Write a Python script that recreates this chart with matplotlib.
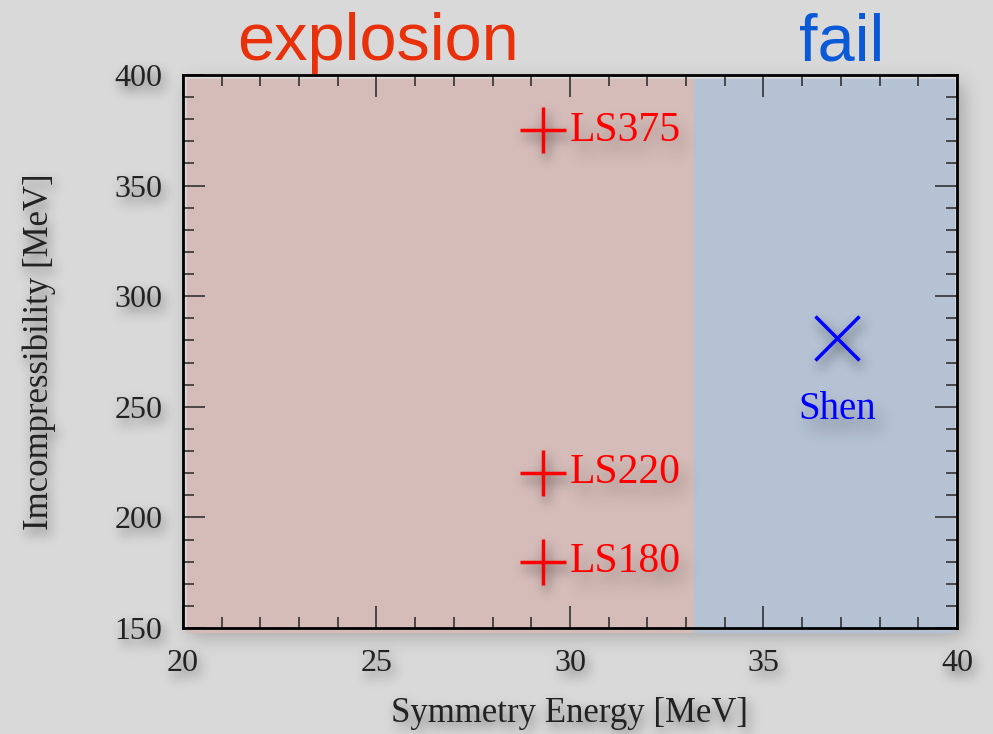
import numpy as np
import matplotlib.pyplot as plt
from matplotlib.text import Text
from matplotlib.patches import Rectangle
from matplotlib.ticker import MultipleLocator

# equations of state: symmetry energy [MeV], incompressibility [MeV]
ls_names = ["LS180", "LS220", "LS375"]
ls_esym = [29.3, 29.3, 29.3]
ls_k = [180, 220, 375]
shen_esym = [36.9]
shen_k = [281]

# explosion / fail boundary in symmetry energy
boundary = 33.2
xlim = (20, 40)
ylim = (150, 400)


def blur(a, sigma):
    r = int(3 * sigma)
    k = np.exp(-0.5 * (np.arange(-r, r + 1) / sigma) ** 2)
    k /= k.sum()
    h, w = a.shape
    p = np.pad(a, ((0, 0), (r, r)))
    a = sum(k[i] * p[:, i:i + w] for i in range(2 * r + 1))
    p = np.pad(a, ((r, r), (0, 0)))
    return sum(k[i] * p[i:i + h, :] for i in range(2 * r + 1))


class Shadow:
    """agg filter: blurred black copy of the artist, shifted down-right"""

    def __init__(self, sigma=4, dx=3, dy=5, alpha=0.5):
        self.sigma, self.dx, self.dy, self.alpha = sigma, dx, dy, alpha

    def __call__(self, im, dpi):
        pad = int(3 * self.sigma) + max(abs(self.dx), abs(self.dy)) + 2
        a = np.pad(im[..., 3], pad)
        a = blur(a, self.sigma)
        a = np.roll(np.roll(a, self.dx, axis=1), self.dy, axis=0)
        out = np.zeros(a.shape + (4,))
        out[..., 3] = np.clip(a * self.alpha, 0, 1)
        return out, -pad, -pad


def text_shadow(t, **kw):
    s = Text()
    s.update_from(t)
    s.set_text(t.get_text())
    s.set_rotation_mode(t.get_rotation_mode())
    s.set_position(t.get_position())
    s.set_transform(t.get_transform())
    s.set_agg_filter(Shadow(**kw))
    s.set_zorder(-1)
    fig.add_artist(s)


plt.rcParams['font.family'] = ['Liberation Serif', 'DejaVu Serif']

fig = plt.figure(figsize=(9.93, 7.34), dpi=100)
fig.patch.set_facecolor('#d9d9d9')
ax = fig.add_axes([0.1843, 0.1444, 0.7794, 0.7534])
ax.set_facecolor('#d9d9d9')

# soft shadow behind the whole frame
fig.add_artist(Rectangle((0, 0), 1, 1, transform=ax.transAxes, facecolor='k',
                         zorder=-2, agg_filter=Shadow(10, 6, 8, 0.25)))

ax.axvspan(xlim[0] + 0.1, boundary, ymin=-0.007, ymax=0.993, color='#d5bcb8',
           clip_on=False, zorder=0)
ax.axvspan(boundary, xlim[1] - 0.08, ymin=-0.007, ymax=0.993, color='#b5c2d4',
           clip_on=False, zorder=0)

for flt, z in ((Shadow(6, 3, 6, 0.6), 2), (None, 3)):
    ax.plot(ls_esym, ls_k, linestyle='none', marker='+', markersize=33,
            markeredgewidth=2.5, color='#ff0000', zorder=z, agg_filter=flt)
    ax.plot(shen_esym, shen_k, linestyle='none', marker='x', markersize=32,
            markeredgewidth=2.5, color='#0000ff', zorder=z, agg_filter=flt)
    for name, x, y in zip(ls_names, ls_esym, ls_k):
        ax.annotate(name, (x, y), xytext=(19, 0), textcoords='offset points',
                    ha='left', va='center', fontsize=30, color='#ff0000',
                    zorder=z, agg_filter=flt)
    ax.annotate("Shen", (shen_esym[0], shen_k[0]), xytext=(0, -51),
                textcoords='offset points', ha='center', va='center',
                fontsize=28, color='#0000ff', zorder=z, agg_filter=flt)

ax.set_xlim(*xlim)
ax.set_ylim(*ylim)
ax.xaxis.set_major_locator(MultipleLocator(5))
ax.xaxis.set_minor_locator(MultipleLocator(1))
ax.yaxis.set_major_locator(MultipleLocator(50))
ax.yaxis.set_minor_locator(MultipleLocator(10))
ax.tick_params(which='both', direction='in', top=True, right=True,
               color='#333333', width=1.2, labelsize=23, labelcolor='#222222')
ax.tick_params(which='major', length=16, pad=15)
ax.tick_params(which='minor', length=8)
for s in ax.spines.values():
    s.set_linewidth(2)
    s.set_color('black')

ax.set_xlabel("Symmetry Energy [MeV]", fontsize=25, color='#222222',
              labelpad=14)
ax.set_ylabel("Imcompressibility [MeV]", fontsize=25, color='#222222',
              labelpad=42)

fig.text(0.381, 0.918, "explosion", family='Liberation Sans', fontsize=48,
         color='#e8300a', ha='center', va='baseline')
fig.text(0.848, 0.918, "fail", family='Liberation Sans', fontsize=48,
         color='#0a5ad8', ha='center', va='baseline')

# shadows for tick labels and axis labels, once their positions are known
fig.canvas.draw()
for axis, lim in ((ax.xaxis, xlim), (ax.yaxis, ylim)):
    for tick in axis.get_major_ticks():
        if lim[0] - 1e-9 <= tick.get_loc() <= lim[1] + 1e-9:
            text_shadow(tick.label1, sigma=6, dx=3, dy=6, alpha=0.55)
text_shadow(ax.xaxis.label, sigma=6, dx=3, dy=6, alpha=0.55)
text_shadow(ax.yaxis.label, sigma=6, dx=3, dy=6, alpha=0.55)

fig.savefig('out.png', dpi=100, facecolor=fig.get_facecolor())
